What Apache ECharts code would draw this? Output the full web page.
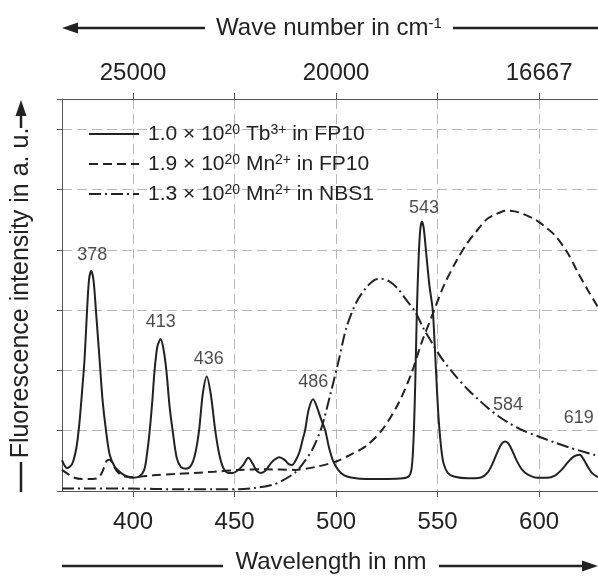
<!DOCTYPE html>
<html>
<head>
<meta charset="utf-8">
<script src="https://cdn.jsdelivr.net/npm/echarts@6.0.0/dist/echarts.min.js"></script>
<style>
html,body{margin:0;padding:0;background:#fff;}
#chart{width:598px;height:576px;}
</style>
</head>
<body>
<div id="chart"></div>
<script>
// ---- Data ----
// 1.0e20 Tb3+ in FP10 (solid)
var tbX = [365,367.5,370,372,373.5,375,376.1,377.2,378.3,379.4,380.5,381.7,383.5,385,386.5,388.5,391,394,397,400,
  403,405.5,407,408.2,409.5,410.6,412,413.6,415,416.4,418,419.5,421.5,423.5,426,428.5,430.5,432.5,434.3,436.3,438.3,440.5,442.5,444.5,447,
  449,451.5,454,456.8,459,461,463,465,467,469,472,474.5,476.5,478.3,480,482,483.5,484.7,486.5,488.7,490.5,492.5,494.7,496.5,498.5,501,504,508,
  515,525,533,536,537.3,538.2,539,539.8,540.7,541.5,542.3,543.2,544.5,546,547.6,548.6,549.5,550.5,551.8,553,555,558,
  565,571,574.5,577,579.5,581.5,583.2,585,587,589,591.5,594.5,599,604,608,611,614,617,620,622,624,626,629];
var tbY = [0.51,0.38,0.45,0.7,1.1,1.7,2.18,2.9,3.5,3.65,3.5,3.0,2.18,1.5,1.05,0.6,0.4,0.3,0.24,0.22,
  0.24,0.35,0.65,1.0,1.5,2.0,2.4,2.52,2.35,2.0,1.4,1.0,0.55,0.4,0.37,0.42,0.6,1.0,1.6,1.9,1.6,1.0,0.6,0.38,0.3,
  0.3,0.34,0.42,0.55,0.45,0.33,0.3,0.33,0.42,0.5,0.56,0.52,0.45,0.43,0.5,0.65,0.85,1.0,1.35,1.52,1.4,1.2,1.0,0.72,0.5,0.35,0.26,0.22,
  0.2,0.2,0.21,0.25,0.4,0.9,1.8,3.0,3.9,4.35,4.47,4.35,3.9,3.4,3.0,2.4,1.8,1.2,0.7,0.45,0.3,0.24,
  0.21,0.22,0.3,0.45,0.65,0.78,0.82,0.78,0.65,0.5,0.36,0.27,0.22,0.22,0.26,0.35,0.47,0.57,0.6,0.52,0.4,0.3,0.23];
// 1.9e20 Mn2+ in FP10 (dashed)
var mnFpX = [365,368,371,375,380,383,385,387,388.5,390,392,395,400,410,420,430,440,452,465,480,490,500,507,514.5,522.6,530.8,537.2,
  542,548,553,559,564,569,574,578,584,590,598,603,608,614,619,624,629];
var mnFpY = [0.35,0.28,0.22,0.2,0.2,0.22,0.33,0.5,0.52,0.45,0.33,0.25,0.23,0.26,0.28,0.3,0.32,0.35,0.36,0.35,0.4,0.49,0.6,0.74,1.01,1.46,1.96,
  2.45,2.97,3.4,3.8,4.08,4.3,4.5,4.58,4.65,4.62,4.5,4.38,4.23,3.95,3.63,3.33,3.05];
// 1.3e20 Mn2+ in NBS1 (dash-dot)
var mnNbsX = [365,380,400,420,440,452,460,468.5,474,480.3,484,488.2,493,497.3,501.4,505,510,515,519,522,526,530,535,539,543,547,552,559,
  565,570,575,580,585,591,600,608,615,620,627,629];
var mnNbsY = [0.04,0.04,0.04,0.03,0.03,0.03,0.05,0.1,0.18,0.32,0.47,0.68,1.07,1.62,2.18,2.7,3.13,3.38,3.5,3.52,3.48,3.37,3.15,2.97,2.7,2.47,2.2,1.9,
  1.68,1.52,1.37,1.24,1.13,1.02,0.9,0.8,0.72,0.67,0.6,0.58];
// Peak annotations
var peakNames = ['378','413','436','486','543','584','619'];
var peakX = [379.4,413.6,436.3,488.7,542.3,583.2,620];
var peakY = [3.65,2.52,1.9,1.52,4.47,0.82,0.6];
// Axes
var wavelengthTicks = [400,450,500,550,600];
var waveNumberLabels = {400:'25000', 500:'20000', 600:'16667'};
var seriesNames = ['tb','mnfp','mnnbs'];
var legendLabels = {
  tb: '1.0 × 10{sup|20} Tb{sup|3+} in FP10',
  mnfp: '1.9 × 10{sup|20} Mn{sup|2+} in FP10',
  mnnbs: '1.3 × 10{sup|20} Mn{sup|2+} in NBS1'
};

// ---- Chart ----
var FONT = '"Liberation Sans", Arial, sans-serif';
var INK = '#222';
var AXIS = '#555';
var GRID = '#b8b8b8';
function pairs(xs, ys){ return xs.map(function(x,i){ return [x, ys[i]]; }); }

var labelOffsets = [[1,-15.5],[0,-17],[2,-17.5],[0,-17.5],[2,-13.5],[3,-36.5],[-1,-37]];
var peakData = peakX.map(function(x,i){
  return { value:[x, peakY[i]], name: peakNames[i], label:{ offset: labelOffsets[i] } };
});

var chart = echarts.init(document.getElementById('chart'), null, {renderer:'canvas'});
var option = {
  animation: false,
  backgroundColor: '#fff',
  textStyle: { fontFamily: FONT },
  grid: { left: 62, top: 99, bottom: 85, right: 0, containLabel: false },
  legend: {
    orient: 'vertical', left: 83, top: 118, itemWidth: 50, itemHeight: 20, itemGap: 8,
    data: seriesNames,
    formatter: function(n){ return legendLabels[n]; },
    itemStyle: { opacity: 0, borderWidth: 0, color: 'rgba(0,0,0,0)' },
    lineStyle: { opacity: 1 },
    textStyle: { fontFamily: FONT, fontSize: 21, color: INK, padding:[0,0,0,4], lineHeight: 22,
      rich: { sup: { fontFamily: FONT, fontSize: 14, verticalAlign: 'top', lineHeight: 14, color: INK } } }
  },
  xAxis: [{
    type: 'value', min: 365, max: 629, position: 'bottom',
    axisLine: { show: true, onZero: false, lineStyle: { color: AXIS, width: 1 } },
    axisTick: { show: true, length: 6, customValues: wavelengthTicks, lineStyle: { color: AXIS } },
    axisLabel: { customValues: wavelengthTicks, color: INK, fontSize: 24, fontFamily: FONT, margin: 19 },
    splitLine: { show: true, lineStyle: { color: GRID, type: [10,5], width: 1 } }
  },{
    type: 'value', min: 365, max: 629, position: 'top',
    axisLine: { show: true, onZero: false, lineStyle: { color: AXIS, width: 1 } },
    axisTick: { show: true, length: 6, customValues: wavelengthTicks, lineStyle: { color: AXIS } },
    axisLabel: { customValues: [400,500,600], color: INK, fontSize: 24, fontFamily: FONT, margin: 14,
      formatter: function(v){ return waveNumberLabels[v] || ''; } },
    splitLine: { show: false }
  }],
  yAxis: {
    type: 'value', min: 0, max: 6.5, interval: 1,
    axisLine: { show: true, lineStyle: { color: AXIS, width: 1 } },
    axisTick: { show: true, length: 5, lineStyle: { color: AXIS } },
    axisLabel: { show: false },
    splitLine: { show: true, lineStyle: { color: GRID, type: [10,5], width: 1 } }
  },
  series: [
    { name: 'tb', type: 'line', data: pairs(tbX, tbY), showSymbol: false, symbol: 'none', smooth: 0.3,
      lineStyle: { color: INK, width: 2 }, itemStyle: { color: INK }, z: 4 },
    { name: 'mnfp', type: 'line', data: pairs(mnFpX, mnFpY), showSymbol: false, symbol: 'none', smooth: 0.3,
      lineStyle: { color: INK, width: 2, type: [9,5] }, itemStyle: { color: INK }, z: 3 },
    { name: 'mnnbs', type: 'line', data: pairs(mnNbsX, mnNbsY), showSymbol: false, symbol: 'none', smooth: 0.3,
      lineStyle: { color: INK, width: 2, type: [12,4,2,4] }, itemStyle: { color: INK }, z: 3 },
    { name: 'peaks', type: 'scatter', data: peakData, symbolSize: 0, silent: true, z: 5,
      label: { show: true, position: 'inside', formatter: '{b}', color: '#1e1e1e', fontSize: 18, fontFamily: FONT } }
  ],
  graphic: [
    // top title with left arrow
    { type: 'polygon', shape: { points: [[62,28],[78,22.5],[78,33.5]] }, style: { fill: INK } },
    { type: 'line', shape: { x1: 76, y1: 28, x2: 205, y2: 28 }, style: { stroke: INK, lineWidth: 2.5 } },
    { type: 'text', style: { x: 329, y: 28, text: 'Wave number in cm{sup|-1}', align: 'center', verticalAlign: 'middle',
      font: '24px ' + FONT, fill: INK,
      rich: { sup: { fontSize: 15, fontFamily: FONT, verticalAlign: 'top', lineHeight: 15, fill: INK } } } },
    { type: 'line', shape: { x1: 453, y1: 28, x2: 600, y2: 28 }, style: { stroke: INK, lineWidth: 2.5 } },
    // bottom title with right arrow
    { type: 'line', shape: { x1: 62, y1: 566, x2: 223, y2: 566 }, style: { stroke: INK, lineWidth: 2.5 } },
    { type: 'text', style: { x: 331, y: 562, text: 'Wavelength in nm', align: 'center', verticalAlign: 'middle',
      font: '24px ' + FONT, fill: INK } },
    { type: 'line', shape: { x1: 439, y1: 566, x2: 584, y2: 566 }, style: { stroke: INK, lineWidth: 2.5 } },
    { type: 'polygon', shape: { points: [[598,566],[582,560.5],[582,571.5]] }, style: { fill: INK } },
    // left title with up arrow
    { type: 'line', shape: { x1: 21, y1: 462, x2: 21, y2: 492 }, style: { stroke: INK, lineWidth: 2.5 } },
    { type: 'text', x: 21, y: 293, rotation: Math.PI/2,
      style: { x: 0, y: 0, text: 'Fluorescence intensity in a. u.', align: 'center', verticalAlign: 'middle',
      font: '25px ' + FONT, fill: INK } },
    { type: 'line', shape: { x1: 21, y1: 114, x2: 21, y2: 128 }, style: { stroke: INK, lineWidth: 2.5 } },
    { type: 'polygon', shape: { points: [[21,100],[15.5,116],[26.5,116]] }, style: { fill: INK } }
  ]
};
chart.setOption(option);
</script>
</body>
</html>
